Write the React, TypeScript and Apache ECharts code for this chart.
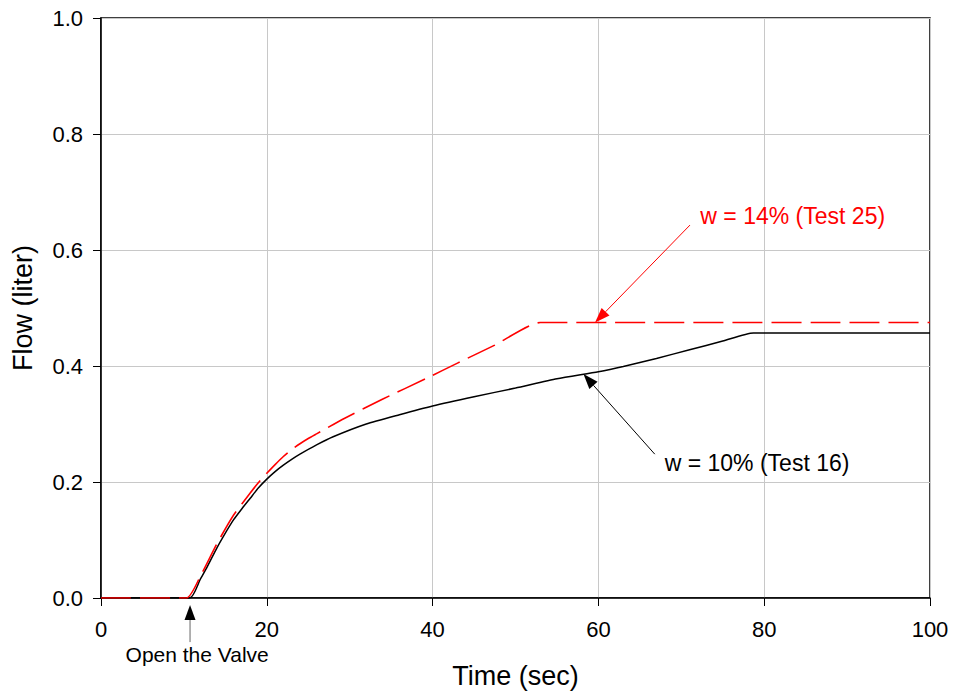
import React, { useEffect, useRef } from "react";
import * as echarts from "echarts";

// Black curve: w = 10% (Test 16)
const blackTime = [0, 10.7, 12, 12.75, 14, 14.75, 16, 17, 18, 19, 20, 21, 22, 23, 24, 26, 28, 32, 36, 40, 45, 50, 55, 60, 63, 67, 71, 75, 78.7, 100];
const blackFlow = [0, 0, 0.033, 0.052, 0.087, 0.106, 0.135, 0.154, 0.172, 0.19, 0.205, 0.218, 0.229, 0.239, 0.248, 0.264, 0.278, 0.3, 0.316, 0.331, 0.347, 0.362, 0.378, 0.39, 0.399, 0.413, 0.428, 0.443, 0.457, 0.457];

// Red dashed curve: w = 14% (Test 25)
const redTime = [0, 10.3, 12, 14, 16, 18, 19, 20, 21, 22, 23, 24, 25, 26, 29.4, 34, 39.3, 43, 47.5, 53, 100];
const redFlow = [0, 0, 0.038, 0.094, 0.143, 0.181, 0.199, 0.215, 0.230, 0.244, 0.256, 0.266, 0.275, 0.283, 0.31, 0.343, 0.379, 0.405, 0.436, 0.475, 0.475];

const xTitle = "Time (sec)";
const yTitle = "Flow (liter)";

// Annotations (data coordinates)
const annoLabels = ["w = 14% (Test 25)", "w = 10% (Test 16)", "Open the Valve"];
const annoTextAt = [[72.3, 0.659], [68.0, 0.233], [11.6, -0.098]];
const annoTextAlign = ["left", "left", "center"];
const annoColors = ["#ff0000", "#000000", "#000000"];
const annoStemColors = ["#ff0000", "#000000", "#666666"];
const arrowFrom = [[71.05, 0.643], [66.8, 0.248], [10.74, -0.076]];
const arrowTo = [[59.6, 0.475], [58.2, 0.386], [10.74, -0.012]];

const FONT = "'Liberation Sans', Arial, Helvetica, sans-serif";

export default function App() {
  const ref = useRef<HTMLDivElement>(null);
  useEffect(() => {
    if (!ref.current) return;
    const chart = echarts.init(ref.current, undefined, { renderer: "svg" });
    const axisLine = { lineStyle: { color: "#000", width: 1.5 } };
    chart.setOption({
      animation: false,
      backgroundColor: "#fff",
      grid: { left: 101, right: 23, top: 18, bottom: 100, show: true, borderColor: "#000", borderWidth: 1.5 },
      xAxis: {
        type: "value",
        min: 0,
        max: 100,
        interval: 20,
        name: xTitle,
        nameLocation: "middle",
        nameGap: 64,
        nameTextStyle: { fontSize: 27, color: "#000", fontFamily: FONT },
        axisLine,
        axisTick: { show: true, length: 8, lineStyle: { color: "#000", width: 1 } },
        axisLabel: { fontSize: 22, color: "#000", fontFamily: FONT, margin: 20 },
        splitLine: { show: true, lineStyle: { color: "#c8c8c8", width: 1 } },
      },
      yAxis: {
        type: "value",
        min: 0,
        max: 1,
        interval: 0.2,
        name: yTitle,
        nameLocation: "middle",
        nameGap: 65,
        nameTextStyle: { fontSize: 27, color: "#000", fontFamily: FONT },
        axisLine,
        axisTick: { show: true, length: 8, lineStyle: { color: "#000", width: 1 } },
        axisLabel: { fontSize: 22, color: "#000", fontFamily: FONT, margin: 18, formatter: (v: number) => v.toFixed(1) },
        splitLine: { show: true, lineStyle: { color: "#c8c8c8", width: 1 } },
      },
      series: [
        {
          type: "line",
          data: blackTime.map((t, i) => [t, blackFlow[i]]),
          showSymbol: false,
          symbol: "none",
          smooth: 0.2,
          lineStyle: { color: "#000", width: 1.5 },
          z: 3,
        },
        {
          type: "line",
          data: redTime.map((t, i) => [t, redFlow[i]]),
          showSymbol: false,
          symbol: "none",
          smooth: 0.2,
          lineStyle: { color: "#ff0000", width: 1.6, type: [30, 9] },
          z: 4,
        },
      ],
    });

    const px = (p: number[]) => chart.convertToPixel({ gridIndex: 0 }, p) as number[];
    const elements: any[] = [];
    annoLabels.forEach((label, i) => {
      const a = px(arrowFrom[i]);
      const b = px(arrowTo[i]);
      const dx = b[0] - a[0];
      const dy = b[1] - a[1];
      const len = Math.sqrt(dx * dx + dy * dy);
      const ux = dx / len;
      const uy = dy / len;
      const L = 15;
      const W = 11;
      const bx = b[0] - ux * L;
      const by = b[1] - uy * L;
      elements.push({
        type: "line",
        shape: { x1: a[0], y1: a[1], x2: bx, y2: by },
        style: { stroke: annoStemColors[i], lineWidth: 1 },
        z: 10,
      });
      elements.push({
        type: "polygon",
        shape: {
          points: [
            [b[0], b[1]],
            [bx - uy * W / 2, by + ux * W / 2],
            [bx + uy * W / 2, by - ux * W / 2],
          ],
        },
        style: { fill: annoColors[i] },
        z: 10,
      });
      const t = px(annoTextAt[i]);
      elements.push({
        type: "text",
        x: t[0],
        y: t[1],
        style: {
          text: label,
          fill: annoColors[i],
          fontSize: i === 2 ? 21 : 23,
          fontFamily: FONT,
          align: annoTextAlign[i],
          verticalAlign: "middle",
        },
        z: 10,
      });
    });
    chart.setOption({ graphic: elements });

    return () => chart.dispose();
  }, []);
  return <div ref={ref} style={{ position: "fixed", left: 0, top: 0, width: 953, height: 698 }} />;
}
